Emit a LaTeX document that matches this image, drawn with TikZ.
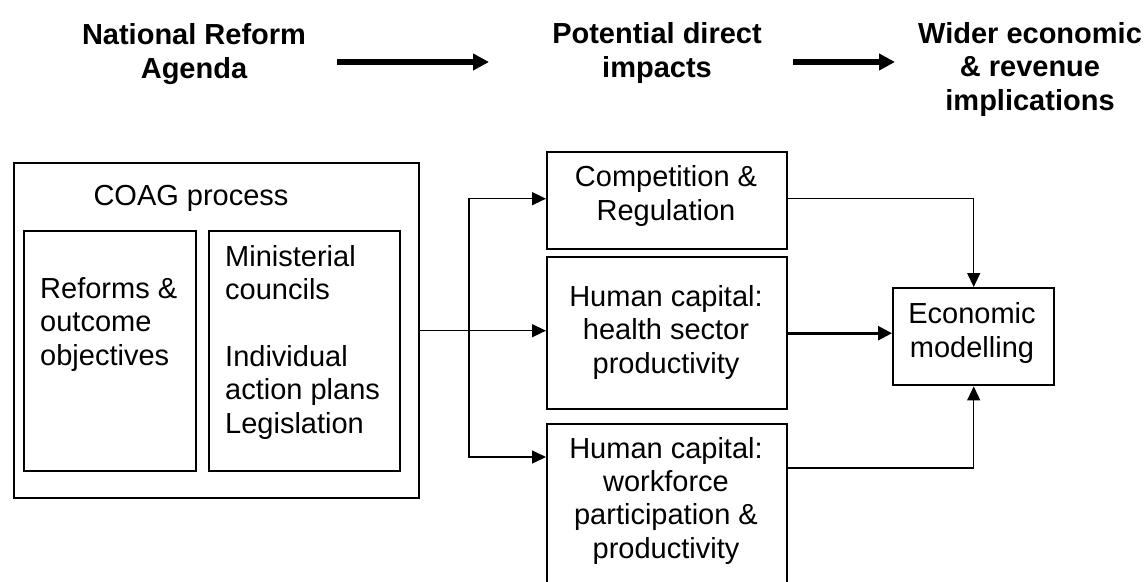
\documentclass[tikz,border=0pt]{standalone}
\usepackage{fontspec}
\setmainfont{Liberation Sans}
\usetikzlibrary{arrows.meta}
\begin{document}
\begin{tikzpicture}[x=1pt,y=-1pt,
  box/.style={draw, line width=2.4pt, inner sep=0pt, anchor=north west},
  txt/.style={font=\fontsize{29}{33.3}\selectfont, inner sep=0pt},
  head/.style={font=\fontsize{29}{33.5}\selectfont\bfseries, inner sep=0pt, align=center, anchor=base},
  big/.style={line width=6pt, -{Triangle[length=16pt,width=16pt]}},
  link/.style={line width=1.4pt, -{Triangle[length=14pt,width=13pt]}},
  thick link/.style={line width=2.6pt, -{Triangle[length=14pt,width=14pt]}}
]
\useasboundingbox (0,0) rectangle (1147,581);
\clip (0,0) rectangle (1147,581);

% headings (base anchor = baseline of last line)
\node[head] (h1) at (194,78) {National Reform\\Agenda};
\node[head] (h2) at (657,77) {Potential direct\\impacts};
\node[head] (h3) at (1030,110) {Wider economic\\\& revenue\\implications};
\coordinate (a1s) at (337,62);
\coordinate (a1e) at (489,62);
\coordinate (a2s) at (793,62);
\coordinate (a2e) at (895,62);
\draw[big] (a1s) -- (a1e);
\draw[big] (a2s) -- (a2e);

% boxes
\node[box, minimum width=405pt, minimum height=335pt] (coag) at (13,162) {};
\node[box, minimum width=172pt, minimum height=240pt] (reforms) at (23,230) {};
\node[box, minimum width=191pt, minimum height=240pt] (minist) at (208,230) {};
\node[box, minimum width=240pt, minimum height=97pt] (comp) at (546,151) {};
\node[box, minimum width=240pt, minimum height=152pt] (health) at (546,256) {};
\node[box, minimum width=240pt, minimum height=180pt] (work) at (546,423) {};
\node[box, minimum width=161pt, minimum height=97pt] (econ) at (892,287) {};

% texts
\node[txt, anchor=base] (coagt) at (191,205) {COAG process};
\node[txt, anchor=base west, align=left] (reformst) at (40,365) {Reforms \&\\outcome\\objectives};
\node[txt, anchor=base west, align=left] (ministt) at (225,433) {Ministerial\\councils\\[33.3pt]Individual\\action plans\\Legislation};
\node[txt, anchor=base, align=center] (compt) at (666,220) {Competition \&\\Regulation};
\node[txt, anchor=base, align=center] (healtht) at (666,373) {Human capital:\\health sector\\productivity};
\node[txt, anchor=base, align=center] (workt) at (666,558) {Human capital:\\workforce\\participation \&\\productivity};
\node[txt, anchor=base, align=center] (econt) at (972,357) {Economic\\modelling};

% connectors
\coordinate (split) at (469,330);
\draw[link] (coag.east) -- (coag.east -| health.west);
\draw[link] (split |- coag.east) |- ([yshift=2pt]comp.west);
\draw[link] (split |- coag.east) |- ([yshift=-34pt]work.north west);
\draw[link] ([yshift=2pt]comp.east) -| (econ.north);
\draw[link] ([yshift=-45pt]work.north east) -| (econ.south);
\draw[thick link] (health.east) -- (health.east -| econ.west);
\end{tikzpicture}
\end{document}
